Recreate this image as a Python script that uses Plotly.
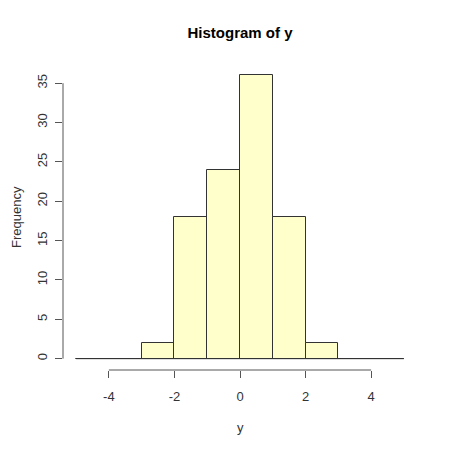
import plotly.graph_objects as go

# histogram of y: unit-width bins from -5 to 5
breaks = [-5, -4, -3, -2, -1, 0, 1, 2, 3, 4, 5]
counts = [0, 0, 2, 18, 24, 36, 18, 2, 0, 0]
x_ticks = [-4, -2, 0, 2, 4]
y_ticks = [0, 5, 10, 15, 20, 25, 30, 35]

mids = [(a + b) / 2 for a, b in zip(breaks[:-1], breaks[1:])]
span = breaks[-1] - breaks[0]
ymax = max(counts)

fig = go.Figure()
fig.add_trace(go.Bar(x=mids, y=counts, width=1,
                     marker={'color': '#FFFFCC', 'line': {'color': '#333333', 'width': 1}},
                     showlegend=False))

# baseline under all bins (also the empty ones)
fig.add_shape(type='line', x0=breaks[0], x1=breaks[-1], y0=0, y1=0,
              xref='x', yref='y', line={'color': '#333333', 'width': 1})
# R-style detached axis lines
fig.add_shape(type='line', x0=x_ticks[0], x1=x_ticks[-1], y0=0, y1=0,
              xref='x', yref='paper', line={'color': '#555555', 'width': 1})
fig.add_shape(type='line', x0=0, x1=0, y0=y_ticks[0], y1=y_ticks[-1],
              xref='paper', yref='y', line={'color': '#555555', 'width': 1})

# page body has an 8px margin, so the figure is offset by 8px
font = 'Liberation Sans, Arial, sans-serif'
fs = 13
fig.update_layout(
    width=450, height=449,
    margin={'l': 55, 'r': 41, 't': 56, 'b': 87, 'autoexpand': False},
    plot_bgcolor='white', paper_bgcolor='white',
    bargap=0,
    font={'family': font, 'size': fs, 'color': '#333333'},
    title={'text': '<b>Histogram of y</b>', 'x': 0.5, 'xanchor': 'center',
           'xref': 'paper', 'y': 1 - 25 / 449, 'yanchor': 'middle',
           'font': {'size': 15, 'color': '#000000', 'family': font}},
)
fig.update_xaxes(range=[breaks[0] - 0.04 * span, breaks[-1] + 0.04 * span],
                 tickvals=x_ticks, ticktext=[str(v) for v in x_ticks],
                 ticks='outside', ticklen=7, tickcolor='#555555',
                 showgrid=False, zeroline=False, showline=False, automargin=False,
                 ticklabelstandoff=7)
fig.update_yaxes(range=[-0.04 * ymax, ymax * 1.04],
                 tickvals=y_ticks, ticktext=[str(v) for v in y_ticks],
                 ticks='outside', ticklen=7, tickcolor='#555555',
                 tickangle=-90, showgrid=False, zeroline=False, showline=False,
                 automargin=False, ticklabelstandoff=3)

# axis titles placed like R's mtext
fig.add_annotation(text='y', xref='paper', yref='paper', x=0.5, y=-57 / 306,
                   showarrow=False, xanchor='center', yanchor='middle',
                   font={'size': fs, 'color': '#333333'})
fig.add_annotation(text='Frequency', xref='paper', yref='paper', x=-47 / 354,
                   y=0.5, textangle=-90, showarrow=False, xanchor='center', yanchor='middle',
                   font={'size': fs, 'color': '#333333'})

fig.write_html("out.html")
